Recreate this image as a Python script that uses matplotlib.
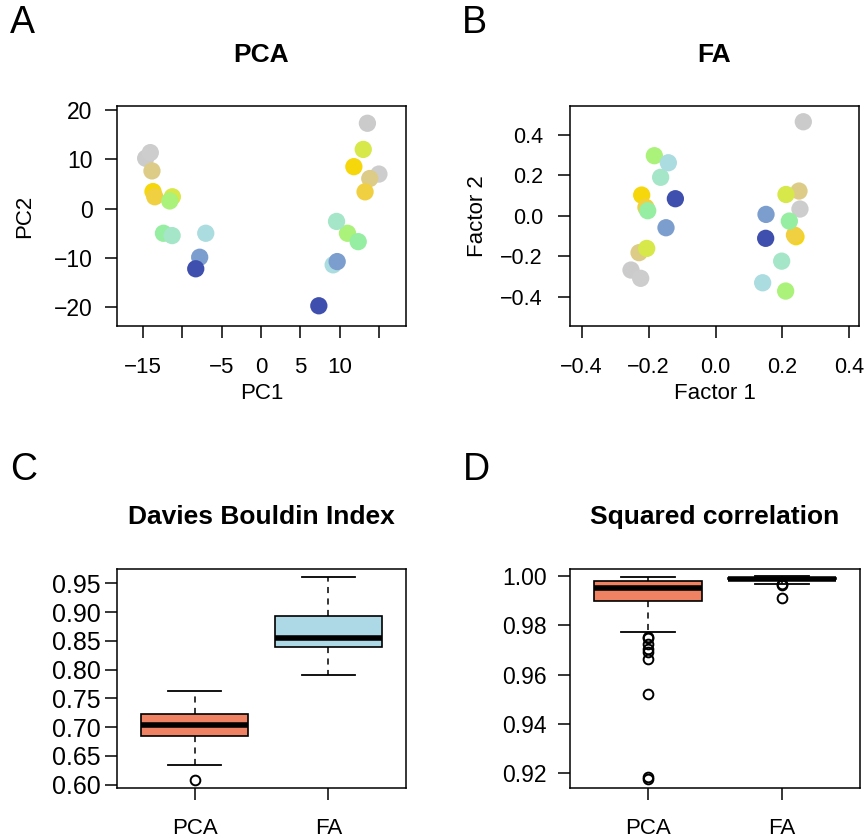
import matplotlib
matplotlib.use('Agg')
import matplotlib.pyplot as plt

plt.rcParams['font.family'] = ['Liberation Sans', 'DejaVu Sans']

W, H = 865, 839

# 12 samples, each shows up once in every cluster
sample_colors = ['#CBCBCB', '#CDCDCD', '#DDCC88', '#F5D70C', '#F0D040', '#D6E84A',
                 '#AAF27A', '#96EEA2', '#A6E6C8', '#AADCE0', '#7C9ECF', '#3F4FAD']
point_colors = sample_colors + sample_colors

# panel A: PCA scores (left cluster, then right cluster)
pc1 = [-14.66, -14.07, -13.86, -13.73, -13.5, -11.27, -11.6, -12.4, -11.3, -7.03, -7.8, -8.3,
       13.5, 14.96, 13.8, 11.78, 13.2, 12.97, 10.97, 12.33, 9.58, 9.15, 9.66, 7.33]
pc2 = [10.2, 11.35, 7.64, 3.45, 2.4, 2.4, 1.55, -5.0, -5.47, -5.0, -9.86, -12.2,
       17.3, 7.0, 6.1, 8.5, 3.4, 12.0, -5.0, -6.7, -2.6, -11.4, -10.74, -19.7]

# panel B: factor scores
fa1 = [-0.2526, -0.2237, -0.2286, -0.2207, -0.208, -0.2057, -0.1828, -0.2027, -0.164, -0.141, -0.148, -0.12,
       0.2625, 0.2525, 0.2496, 0.2406, 0.236, 0.2107, 0.2097, 0.2207, 0.1978, 0.141, 0.151, 0.15]
fa2 = [-0.268, -0.309, -0.182, 0.103, 0.042, -0.161, 0.298, 0.0256, 0.191, 0.263, -0.0586, 0.085,
       0.466, 0.034, 0.123, -0.103, -0.095, 0.106, -0.372, -0.0256, -0.224, -0.331, 0.0074, -0.111]

methods = ['PCA', 'FA']
box_fill = ['#EE8262', '#ADD8E6']

# panel C: Davies Bouldin index
dbi_whislo = [0.6337, 0.791]
dbi_q1 = [0.6842, 0.8386]
dbi_median = [0.7039, 0.8554]
dbi_q3 = [0.7219, 0.8937]
dbi_whishi = [0.7625, 0.9616]
dbi_fliers = [[0.6087], []]

# panel D: squared correlation
r2_whislo = [0.97741, 0.99676]
r2_q1 = [0.98974, 0.99880]
r2_median = [0.99500, 0.99895]
r2_q3 = [0.99811, 0.99915]
r2_whishi = [0.99973, 0.99985]
r2_fliers = [[0.9753, 0.9749, 0.9724, 0.9703, 0.9690, 0.9662, 0.9522, 0.9184, 0.9178],
             [0.9966, 0.9963, 0.9910]]

LAB_FS = 16
TITLE_FS = 19


def rect(l, t, r, b):
    return [l / W, 1 - b / H, (r - l) / W, (b - t) / H]


def ftext(x, y, s, **kw):
    fig.text(x / W, 1 - y / H, s, **kw)


def style(ax, xfs, yfs, xpad, ypad):
    for sp in ax.spines.values():
        sp.set_linewidth(1.1)
    ax.tick_params(direction='out', length=8.5, width=1.1)
    ax.tick_params(axis='x', pad=xpad, labelsize=xfs)
    ax.tick_params(axis='y', pad=ypad, labelsize=yfs)


def boxes(ax, q1, med, q3, lo, hi, fl):
    stats = []
    for i in range(len(methods)):
        stats.append(dict(q1=q1[i], med=med[i], q3=q3[i], whislo=lo[i], whishi=hi[i],
                          fliers=fl[i], label=methods[i]))
    bp = ax.bxp(stats, positions=[1, 2], widths=0.8, capwidths=0.4, patch_artist=True,
                boxprops=dict(linewidth=1.2, edgecolor='black'),
                medianprops=dict(linewidth=4, color='black', solid_capstyle='butt'),
                whiskerprops=dict(linewidth=1.1, linestyle=(0, (4, 3.5)), color='black'),
                capprops=dict(linewidth=1.3, color='black'),
                flierprops=dict(marker='o', markerfacecolor='none', markeredgecolor='black',
                                markersize=7, markeredgewidth=1.4))
    for patch, c in zip(bp['boxes'], box_fill):
        patch.set_facecolor(c)
    ax.set_xlim(0.42, 2.58)
    ax.set_xticks([1, 2])
    ax.set_xticklabels(methods)


fig = plt.figure(figsize=(W / 100, H / 100), dpi=100)

# A
ax = fig.add_axes(rect(117, 106, 406, 326))
ax.scatter(pc1, pc2, s=155, c=point_colors, linewidths=0)
ax.set_xlim(-18.3, 18.4)
ax.set_ylim(-23.8, 20.8)
ax.set_xticks([-15, -10, -5, 0, 5, 10, 15])
ax.set_xticklabels(['\u221215', '', '\u22125', '0', '5', '10', ''])
ax.set_yticks([-20, -10, 0, 10, 20])
style(ax, 16, 16.5, 14, 9)

# B
ax = fig.add_axes(rect(570, 106, 859, 326))
ax.scatter(fa1, fa2, s=155, c=point_colors, linewidths=0)
ax.set_xlim(-0.435, 0.429)
ax.set_ylim(-0.545, 0.544)
ax.set_xticks([-0.4, -0.2, 0.0, 0.2, 0.4])
ax.set_xticklabels(['\u22120.4', '\u22120.2', '0.0', '0.2', '0.4'])
ax.set_yticks([-0.4, -0.2, 0.0, 0.2, 0.4])
ax.set_yticklabels(['\u22120.4', '\u22120.2', '0.0', '0.2', '0.4'])
style(ax, 15.5, 15.5, 14, 11)

# C
ax = fig.add_axes(rect(117, 569, 406, 787.5))
boxes(ax, dbi_q1, dbi_median, dbi_q3, dbi_whislo, dbi_whishi, dbi_fliers)
ax.set_ylim(0.5948, 0.975)
ax.set_yticks([0.60, 0.65, 0.70, 0.75, 0.80, 0.85, 0.90, 0.95])
ax.set_yticklabels(['%.2f' % v for v in ax.get_yticks()])
style(ax, 16, 18, 13.5, 3)

# D
ax = fig.add_axes(rect(570, 569, 860, 787.5))
boxes(ax, r2_q1, r2_median, r2_q3, r2_whislo, r2_whishi, r2_fliers)
ax.set_ylim(0.91416, 1.00284)
ax.set_yticks([0.92, 0.94, 0.96, 0.98, 1.00])
ax.set_yticklabels(['%.2f' % v for v in ax.get_yticks()])
style(ax, 16, 16.5, 13.5, 8)

# titles, axis labels and panel letters
ftext(261.5, 62, 'PCA', ha='center', va='baseline', fontsize=TITLE_FS, fontweight='bold')
ftext(714.5, 62, 'FA', ha='center', va='baseline', fontsize=TITLE_FS, fontweight='bold')
ftext(261.5, 524, 'Davies Bouldin Index', ha='center', va='baseline', fontsize=TITLE_FS, fontweight='bold')
ftext(714.5, 524, 'Squared correlation', ha='center', va='baseline', fontsize=TITLE_FS, fontweight='bold')
ftext(261.5, 399, 'PC1', ha='center', va='baseline', fontsize=LAB_FS)
ftext(714.5, 399, 'Factor 1', ha='center', va='baseline', fontsize=LAB_FS)
ftext(24.5, 216, 'PC2', ha='center', va='center', rotation=90, fontsize=LAB_FS)
ftext(478, 216, 'Factor 2', ha='center', va='center', rotation=90, fontsize=LAB_FS)

for x, y, s in [(10, 33, 'A'), (462, 33, 'B'), (10, 480, 'C'), (463, 480, 'D')]:
    ftext(x, y, s, ha='left', va='baseline', fontsize=27)

fig.savefig('out.png', dpi=100)
